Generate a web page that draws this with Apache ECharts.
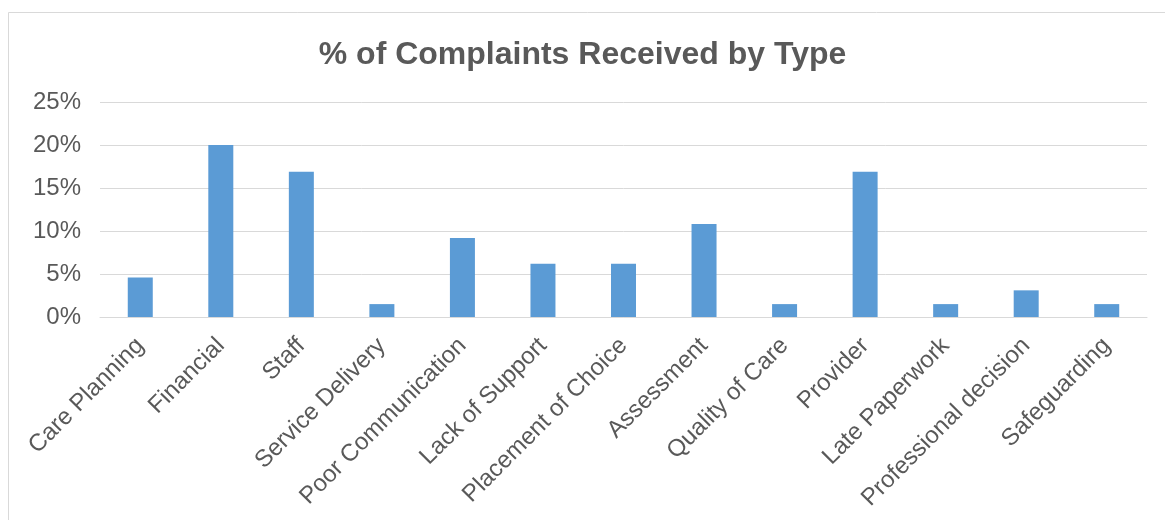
<!DOCTYPE html>
<html><head><meta charset="utf-8">
<script src="https://cdn.jsdelivr.net/npm/echarts@6/dist/echarts.min.js"></script>
<style>html,body{margin:0;padding:0;background:#fff}#c{width:1165px;height:520px}</style>
</head><body><div id="c"></div>
<script>
const categories = ["Care Planning","Financial","Staff","Service Delivery","Poor Communication","Lack of Support","Placement of Choice","Assessment","Quality of Care","Provider","Late Paperwork","Professional decision","Safeguarding"];
const values = [4.6, 20.0, 16.9, 1.5, 9.2, 6.2, 6.2, 10.8, 1.5, 16.9, 1.5, 3.1, 1.5];
const titleText = "% of Complaints Received by Type";

const chart = echarts.init(document.getElementById('c'), null, {renderer:'canvas'});
chart.setOption({
  animation:false,
  backgroundColor:'#fff',
  graphic:[{type:'rect', shape:{x:8.5,y:12.5,width:1170,height:520}, style:{fill:'none',stroke:'#d9d9d9',lineWidth:1}, silent:true}],
  title:{text:titleText, left:'center', top:34, textStyle:{fontFamily:'Liberation Sans', fontSize:32, fontWeight:'bold', color:'#595959'}},
  grid:{left:100, right:18, top:102, bottom:203, containLabel:false},
  xAxis:{type:'category', data:categories,
    axisLine:{lineStyle:{color:'#d9d9d9', width:1}}, axisTick:{show:false},
    axisLabel:{rotate:45, interval:0, margin:25, fontFamily:'Liberation Sans', fontSize:24, color:'#595959'}},
  yAxis:{type:'value', min:0, max:25, interval:5,
    axisLine:{show:false}, axisTick:{show:false},
    splitLine:{lineStyle:{color:'#d9d9d9', width:1}},
    axisLabel:{formatter:'{value}%', margin:19, fontFamily:'Liberation Sans', fontSize:24, color:'#595959'}},
  series:[{type:'bar', data:values, barWidth:25, itemStyle:{color:'#5b9bd5'}}]
});
</script></body></html>
